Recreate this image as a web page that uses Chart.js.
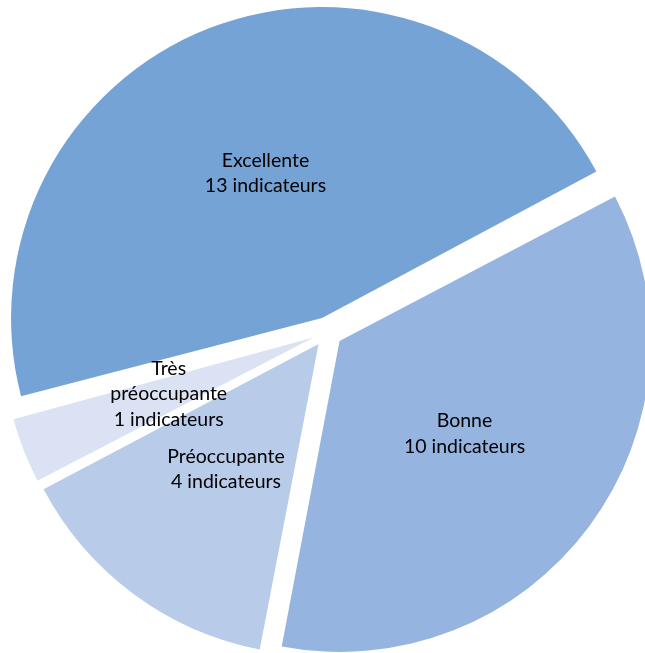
<!DOCTYPE html>
<html>
<head>
<meta charset="utf-8">
<script src="https://cdn.jsdelivr.net/npm/chart.js@4/dist/chart.umd.min.js"></script>
<style>
  html, body { margin: 0; padding: 0; background: #fff; }
  #wrap { width: 645px; height: 653px; }
</style>
</head>
<body>
<div id="wrap"><canvas id="pie"></canvas></div>
<script>
// Répartition des indicateurs
const categories = ['Excellente', 'Bonne', 'Préoccupante', 'Très préoccupante'];
const values = [13, 10, 4, 1];
const labelLines = [
    ['Excellente', '13 indicateurs'],
    ['Bonne', '10 indicateurs'],
    ['Préoccupante', '4 indicateurs'],
    ['Très', 'préoccupante', '1 indicateurs']
];
const colors = ['#76A3D6', '#95B4DF', '#B8CCEA', '#DBE2F4'];

const RADIUS = 311;
const OFFSET = 60; // chart.js translates arcs by offset / 4

// keep every slice the same radius (chart.js grows exploded arcs by offset/4 * fix)
const equalRadius = {
    id: 'equalRadius',
    afterDatasetUpdate(chart) {
        const meta = chart.getDatasetMeta(0);
        meta.data.forEach(arc => {
            const circ = arc.endAngle - arc.startAngle;
            const fix = 1 - Math.sin(Math.min(Math.PI, circ));
            arc.outerRadius = RADIUS - (OFFSET / 4) * fix;
        });
    }
};

// labels inside the slices
const sliceLabels = {
    id: 'sliceLabels',
    afterDatasetsDraw(chart) {
        const ctx = chart.ctx;
        const meta = chart.getDatasetMeta(0);
        ctx.save();
        ctx.font = '19.5px Lato, "Open Sans", sans-serif';
        ctx.fillStyle = '#000';
        ctx.textAlign = 'center';
        ctx.textBaseline = 'middle';
        meta.data.forEach((arc, i) => {
            const mid = (arc.startAngle + arc.endAngle) / 2;
            const dist = OFFSET / 4 + RADIUS / 2;
            const x = arc.x + Math.cos(mid) * dist;
            const y = arc.y + Math.sin(mid) * dist;
            const lines = labelLines[i];
            const lh = 25.5;
            lines.forEach((t, k) => {
                ctx.fillText(t, x, y + (k - (lines.length - 1) / 2) * lh);
            });
        });
        ctx.restore();
    }
};

new Chart(document.getElementById('pie'), {
    type: 'pie',
    data: {
        labels: categories,
        datasets: [{
            data: values,
            backgroundColor: colors,
            borderWidth: 0,
            offset: OFFSET,
            clip: false
        }]
    },
    options: {
        responsive: true,
        maintainAspectRatio: false,
        animation: false,
        rotation: 255.1,
        radius: RADIUS,
        layout: { padding: { left: 10, top: 11, right: 0, bottom: 0 } },
        plugins: {
            legend: { display: false },
            tooltip: { enabled: false }
        }
    },
    plugins: [equalRadius, sliceLabels]
});
</script>
</body>
</html>
